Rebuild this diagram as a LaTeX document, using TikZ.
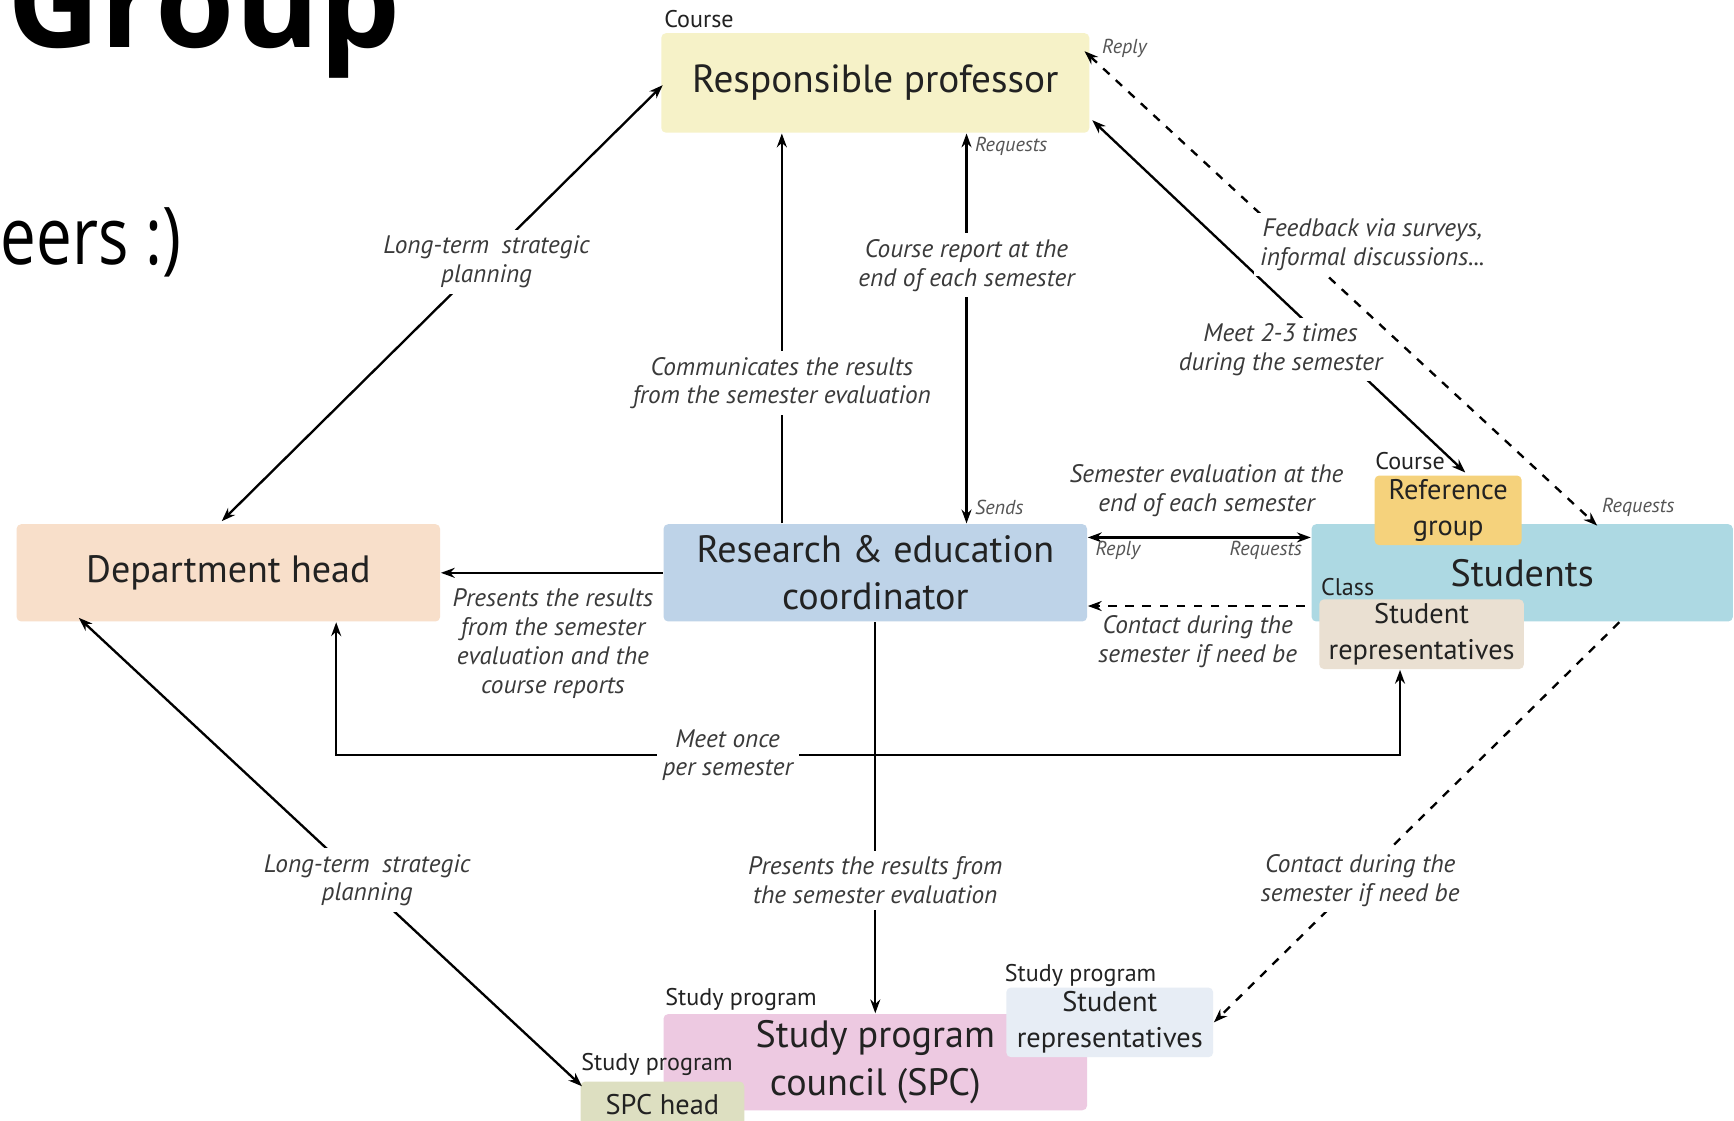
\documentclass[tikz,border=0pt]{standalone}
\usepackage{fontspec}
\setmainfont{PT Sans}
\newfontfamily\slidefont{Open Sans}
\usetikzlibrary{arrows.meta,calc}

\definecolor{profc}{HTML}{F6F2C8}
\definecolor{deptc}{HTML}{F8DFCA}
\definecolor{coordc}{HTML}{BED3E8}
\definecolor{studc}{HTML}{ADD9E3}
\definecolor{refc}{HTML}{F5D27C}
\definecolor{repc}{HTML}{EAE0D2}
\definecolor{spcc}{HTML}{EDC9E1}
\definecolor{spchc}{HTML}{DDDFC1}
\definecolor{sprc}{HTML}{E7EDF5}
\definecolor{txt}{HTML}{222222}
\definecolor{lbl}{HTML}{3A3A3A}
\definecolor{tinyc}{HTML}{555555}

\tikzset{
  box/.style={rectangle, rounded corners=1.2pt, inner sep=0pt, align=center, text=txt,
    font=\fontsize{9.8}{12.2}\selectfont},
  subbox/.style={box, font=\fontsize{7.3}{9.1}\selectfont},
  tag/.style={inner sep=0pt, anchor=west, text=txt, font=\fontsize{6.2}{7}\selectfont},
  lab/.style={fill=white, inner sep=1.5pt, align=center, text=lbl,
    font=\fontsize{6.5}{7.4}\selectfont\itshape},
  plainlab/.style={inner sep=1pt, align=center, text=lbl,
    font=\fontsize{6.5}{7.4}\selectfont\itshape},
  tinylab/.style={inner sep=0pt, text=tinyc, font=\fontsize{5.2}{6}\selectfont\itshape},
  conn/.style={line width=0.6pt, draw=black},
  dashconn/.style={conn, dash pattern=on 2.2pt off 2.2pt},
  >={Stealth[length=1.25mm,width=0.9mm]}
}

\begin{document}
\begin{tikzpicture}[x=0.1mm,y=-0.1mm]
\useasboundingbox (0,0) rectangle (1568,1013);
\clip (0,0) rectangle (1568,1013);
\fill[white] (0,0) rectangle (1568,1013);

% slide remnants
\node[anchor=base west, inner sep=0pt, font=\slidefont\bfseries\fontsize{33}{33}\selectfont] (title) at (6,43) {Group};
\node[anchor=base west, inner sep=0pt, font=\slidefont\fontsize{20.5}{20.5}\selectfont] (subtitle) at (0,239) {\scalebox{0.8}[1]{eers :)}};

% boxes
\node[box, fill=profc, minimum width=38.7mm, minimum height=9mm, font=\fontsize{10.1}{12}\selectfont] (prof) at (791.5,75) {Responsible professor};
\node[box, fill=deptc, minimum width=38.3mm, minimum height=8.8mm] (dept) at (206.5,518) {Department head};
\node[box, fill=coordc, minimum width=38.3mm, minimum height=8.8mm] (coord) at (791.5,518) {Research \& education\\coordinator};
\node[box, fill=studc, minimum width=38.1mm, minimum height=8.8mm] (students) at (1376.5,518) {Students};
\node[subbox, fill=refc, minimum width=13.3mm, minimum height=6.3mm] (refgroup) at (1309.5,461.5) {Reference\\group};
\node[subbox, fill=repc, minimum width=18.5mm, minimum height=6.3mm] (classreps) at (1285.5,573.5) {Student\\representatives};
\node[box, fill=spcc, minimum width=38.3mm, minimum height=8.7mm] (spc) at (791.5,960.5) {Study program\\council (SPC)};
\node[subbox, fill=spchc, minimum width=14.8mm, minimum height=4.2mm] (spchead) at (599,999) {SPC head};
\node[subbox, fill=sprc, minimum width=18.7mm, minimum height=6.3mm] (sprep) at (1003.5,924.5) {Student\\representatives};

% tags
\node[tag] (tagprof) at (600,17) {Course};
\node[tag] (tagref) at (1243,417) {Course};
\node[tag] (tagclass) at (1194,531) {Class};
\node[tag] (tagspc) at (601,904) {Study program};
\node[tag] (tagspch) at (525,963) {Study program};
\node[tag] (tagsprep) at (908,882) {Study program};

% helper coordinates
\coordinate (xa) at (707,0);
\coordinate (xb) at (874,0);
\coordinate (yd) at (0,486);
\coordinate (ce) at (1180,548);
\coordinate (mf1) at (1266,683);
\coordinate (mf2) at (304,683);

% coordinator -> professor
\draw[conn,->] (coord.north -| xa) -- node[lab,pos=0.36] (lcomm) {Communicates the results\\from the semester evaluation} (prof.south -| xa);

% course report
\draw[conn,<->] (prof.south -| xb) -- node[lab,pos=0.338] (lcrep) {Course report at the\\end of each semester} (coord.north -| xb);
\node[tinylab,anchor=west] (lreq1) at (881,132) {Requests};
\node[tinylab,anchor=west] (lsends) at (881,459) {Sends};

% coordinator -> department head
\draw[conn,->] (coord.west) -- (dept.east);
\node[plainlab] (lpres) at (500,582) {Presents the results\\from the semester\\evaluation and the\\course reports};

% coordinator <-> students
\draw[conn,<->] (coord.east |- yd) -- (students.west |- yd);
\node[plainlab] (lsemev) at (1091,444) {Semester evaluation at the\\end of each semester};
\node[tinylab,anchor=west] (lreply2) at (990,498) {Reply};
\node[tinylab,anchor=east] (lreq2) at (1178,498) {Requests};

% contact (class reps -> coordinator)
\draw[dashconn,->] (ce) -- (coord.east |- ce);
\node[plainlab] (lcont1) at (1083,580) {Contact during the\\semester if need be};

% meet once per semester
\draw[conn,<->] (classreps.south -| mf1) -- (mf1) -- node[lab,pos=0.632] (lmeet1) {Meet once\\per semester} (mf2) -- (dept.south -| mf2);

% meet 2-3 times
\draw[conn,<->] ($(prof.south east)+(2,-12)$) -- ($(refgroup.north)+(15.5,-2)$);
\node[lab] (lmeet2) at (1158,316) {Meet 2-3 times\\during the semester};

% feedback dashed
\draw[dashconn,<->] ($(prof.north east)+(-5,17)$) -- ($(students.north west)+(259,2)$);
\node[lab] (lfeed) at (1241,221) {Feedback via surveys,\\informal discussions...};
\node[tinylab,anchor=west] (lreply3) at (996,44) {Reply};
\node[tinylab,anchor=west] (lreq3) at (1448,459) {Requests};

% coordinator -> SPC
\draw[conn,->] (coord.south) -- node[lab,pos=0.66] (lpres2) {Presents the results from\\the semester evaluation} (spc.north);

% long-term lower
\draw[conn,<->] ($(dept.south west)+(57,-4)$) -- ($(spchead.north west)+(2,5)$);
\node[lab] (llt2) at (332,796) {Long-term\hspace{0.5em}strategic\\planning};

% students -> study program reps
\draw[dashconn,->] ($(students.south west)+(279,0)$) -- (sprep.east);
\node[lab] (lcont2) at (1230,796) {Contact during the\\semester if need be};

% long-term upper
\draw[conn,<->] ($(prof.west)+(2,2)$) -- ($(dept.north)+(-6,-2)$);
\node[lab] (llt1) at (440,237) {Long-term\hspace{0.5em}strategic\\planning};
\end{tikzpicture}
\end{document}
